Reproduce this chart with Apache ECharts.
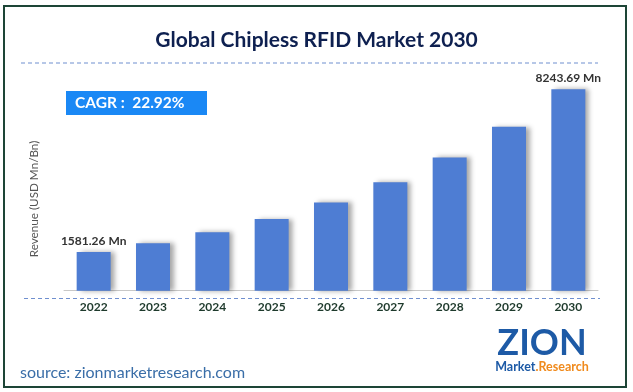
<!DOCTYPE html>
<html>
<head>
<meta charset="utf-8">
<script src="https://cdn.jsdelivr.net/npm/echarts@6/dist/echarts.min.js"></script>
<style>html,body{margin:0;padding:0;background:#fff}#c{width:633px;height:392px}</style>
</head>
<body>
<div id="c"></div>
<script>
const years = ['2022', '2023', '2024', '2025', '2026', '2027', '2028', '2029', '2030'];
const revenue = [1581.26, 1944, 2389, 2937, 3610, 4437, 5454, 6705, 8243.69];
const labelledYears = ['2022', '2030'];
const titleText = 'Global Chipless RFID Market 2030';
const cagrText = 'CAGR :  22.92%';
const yAxisName = 'Revenue (USD Mn/Bn)';
const sourceText = 'source: zionmarketresearch.com';

const chart = echarts.init(document.getElementById('c'), null, {renderer: 'canvas'});
const FONT = 'Lato, "Open Sans", sans-serif';

chart.setOption({
  backgroundColor: '#ffffff',
  animation: false,
  title: {
    text: titleText,
    left: 'center',
    top: 25,
    textStyle: {fontFamily: FONT, fontWeight: 'bold', fontSize: 21, color: '#0e2050'}
  },
  grid: {left: 64, right: 35, top: 46.3, bottom: 101.3},
  xAxis: {
    type: 'category',
    data: years,
    axisLine: {lineStyle: {color: '#c8c8c8', width: 1}},
    axisTick: {show: false},
    axisLabel: {margin: 10, fontFamily: FONT, fontWeight: 'bold', fontSize: 12, color: '#1e3a2c'}
  },
  yAxis: {type: 'value', min: 0, max: 10000, show: false, splitLine: {show: false}},
  series: [{
    type: 'bar',
    data: revenue,
    barWidth: 34,
    itemStyle: {
      color: '#4e7dd3',
      shadowColor: 'rgba(0,0,0,0.35)',
      shadowBlur: 5,
      shadowOffsetX: 4,
      shadowOffsetY: 0
    },
    label: {
      show: true,
      position: 'top',
      distance: 5,
      fontFamily: FONT,
      fontWeight: 'bold',
      fontSize: 12,
      color: '#333333',
      formatter: p => labelledYears.includes(p.name) ? p.value + ' Mn' : ''
    }
  }],
  graphic: [
    {type: 'rect', shape: {x: 4, y: 6, width: 622, height: 381}, style: {fill: 'none', stroke: '#1d4536', lineWidth: 2}, silent: true},
    {type: 'line', shape: {x1: 21, y1: 63, x2: 598, y2: 63}, style: {stroke: '#6f8fcf', lineWidth: 1, lineDash: [4, 3]}},
    {type: 'line', shape: {x1: 24, y1: 298.5, x2: 600, y2: 298.5}, style: {stroke: '#6f8fcf', lineWidth: 1, lineDash: [4, 3]}},
    {type: 'rect', shape: {x: 66, y: 91, width: 141, height: 24}, style: {fill: '#1a88f5'}},
    {type: 'text', x: 75, y: 103, style: {text: cagrText, fill: '#ffffff', font: 'bold 15.5px ' + FONT, verticalAlign: 'middle'}},
    {type: 'text', x: 34, y: 199, rotation: Math.PI / 2, style: {text: yAxisName, fill: '#555555', font: '11.7px ' + FONT, align: 'center', verticalAlign: 'middle'}},
    {type: 'text', x: 20, y: 373, style: {text: sourceText, fill: '#3a6ea8', font: '16px ' + FONT, verticalAlign: 'middle'}},
    {type: 'text', x: 542, y: 343, style: {text: 'ZION', fill: '#1d5aa6', font: 'bold 36px ' + FONT, align: 'center', verticalAlign: 'middle'}},
    {type: 'text', x: 542, y: 367, style: {
      text: '{a|Market}{b|.}{c|Research}',
      align: 'center', verticalAlign: 'middle',
      rich: {
        a: {fill: '#1d5aa6', font: 'bold 12.5px ' + FONT},
        b: {fill: '#f08a1c', font: 'bold 12.5px ' + FONT},
        c: {fill: '#f08a1c', font: 'bold 12.5px ' + FONT}
      }
    }}
  ]
});
</script>
</body>
</html>
